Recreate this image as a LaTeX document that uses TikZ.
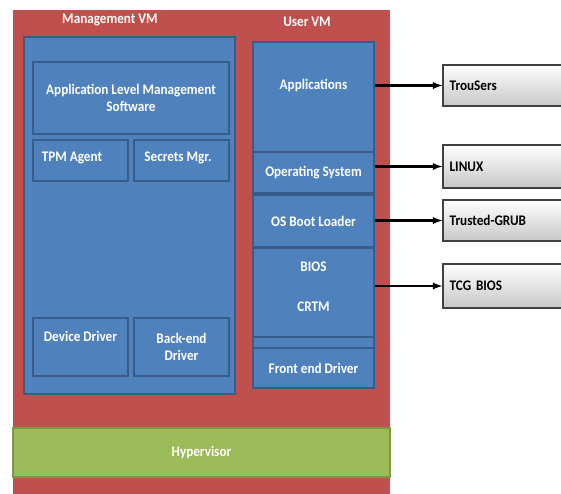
\documentclass[tikz,border=0pt]{standalone}
\usepackage{fontspec}
\setmainfont{Carlito}[FakeStretch=0.9]
\usepackage{tikz}
\usetikzlibrary{positioning,shadows}
\definecolor{vmred}{HTML}{C0504D}
\definecolor{vmblue}{HTML}{4F81BD}
\definecolor{vmborder}{HTML}{385D8A}
\definecolor{hvgreen}{HTML}{9BBB59}
\definecolor{hvborder}{HTML}{7A9A45}
\tikzstyle{block} = [draw=vmborder, line width=1.2pt, fill=vmblue, rectangle, inner sep=0pt, text=white, font=\bfseries\fontsize{12.5}{14.5}\selectfont, align=center]
\tikzstyle{caption} = [text=white, font=\bfseries\fontsize{12.5}{14.5}\selectfont, align=center, inner sep=1pt]
\tikzstyle{tool} = [draw=black!75, line width=1pt, rectangle, top color=white, bottom color=black!22, drop shadow={opacity=0.35, shadow xshift=1pt, shadow yshift=-1pt}, minimum width=4.11cm, text width=3.71cm, inner xsep=0.2cm, align=left, font=\bfseries\fontsize{12.5}{14.5}\selectfont]

\begin{document}
\begin{tikzpicture}[x=0.03cm, y=-0.03cm, >=latex]
\useasboundingbox (0,0) rectangle (561,493);

% host and hypervisor
\node [fill=vmred, rectangle, minimum width=11.31cm, minimum height=14.7cm, inner sep=0pt] (host) at (201.5,255) {};
\node [draw=hvborder, line width=1pt, fill=hvgreen, rectangle, minimum width=11.31cm, minimum height=1.47cm, inner sep=0pt, text=white, font=\bfseries\fontsize{12.5}{14.5}\selectfont] (hypervisor) at (201.5,452.5) {Hypervisor};

% management VM
\node [caption] (mgmtlabel) at (110,20) {Management VM};
\node [block, minimum width=6.33cm, minimum height=10.71cm] (mgmt) at (129.5,215.5) {};
\node [block, minimum width=5.88cm, minimum height=2.16cm] (alms) at (131,98) {Application Level Management\\Software};
\node [block, minimum width=2.85cm, minimum height=1.23cm] (tpm) at (80.5,160.5) {};
\node [caption] (tpmtext) at (72,158) {TPM Agent};
\node [block, minimum width=2.85cm, minimum height=1.23cm] (secrets) at (181.5,160.5) {};
\node [caption] (secretstext) at (178,158) {Secrets Mgr.};
\node [block, minimum width=2.85cm, minimum height=1.74cm] (devdrv) at (80.5,347) {};
\node [caption] (devdrvtext) at (80.5,336) {Device Driver};
\node [block, minimum width=2.85cm, minimum height=1.74cm] (backend) at (181.5,347) {Back-end\\Driver};

% user VM
\node [caption] (userlabel) at (307,22) {User VM};
\node [block, minimum width=3.63cm, minimum height=3.3cm] (apps) at (313.5,97) {};
\node [caption] (appstext) at (313.5,85) {Applications};
\node [block, minimum width=3.63cm, minimum height=1.23cm] (os) at (313.5,172.5) {Operating System};
\node [block, minimum width=3.63cm, minimum height=1.56cm] (boot) at (313.5,221) {OS Boot Loader};
\node [block, minimum width=3.63cm, minimum height=2.67cm] (bios) at (313.5,292.5) {};
\node [caption] (biostext) at (313.5,286.5) {BIOS\\[0.7cm]CRTM};
\node [block, minimum width=3.63cm, minimum height=0.33cm] (strip) at (313.5,342.5) {};
\node [block, minimum width=3.63cm, minimum height=1.2cm] (frontend) at (313.5,368) {Front end Driver};

% trusted components
\node [tool, minimum height=1.23cm] (trousers) at (511.5,85.5) {TrouSers};
\node [tool, minimum height=1.29cm] (linux) at (511.5,166.5) {LINUX};
\node [tool, minimum height=1.23cm] (grub) at (511.5,220.5) {Trusted-GRUB};
\node [tool, minimum height=1.32cm] (tcgbios) at (511.5,286) {TCG BIOS};

\draw [->, line width=1.8pt] (apps.east |- trousers.west) -- (trousers.west);
\draw [->, line width=1.8pt] (os.east |- linux.west) -- (linux.west);
\draw [->, line width=1.8pt] (boot.east |- grub.west) -- (grub.west);
\draw [->, line width=1.8pt] (bios.east |- tcgbios.west) -- (tcgbios.west);

\end{tikzpicture}
\end{document}
